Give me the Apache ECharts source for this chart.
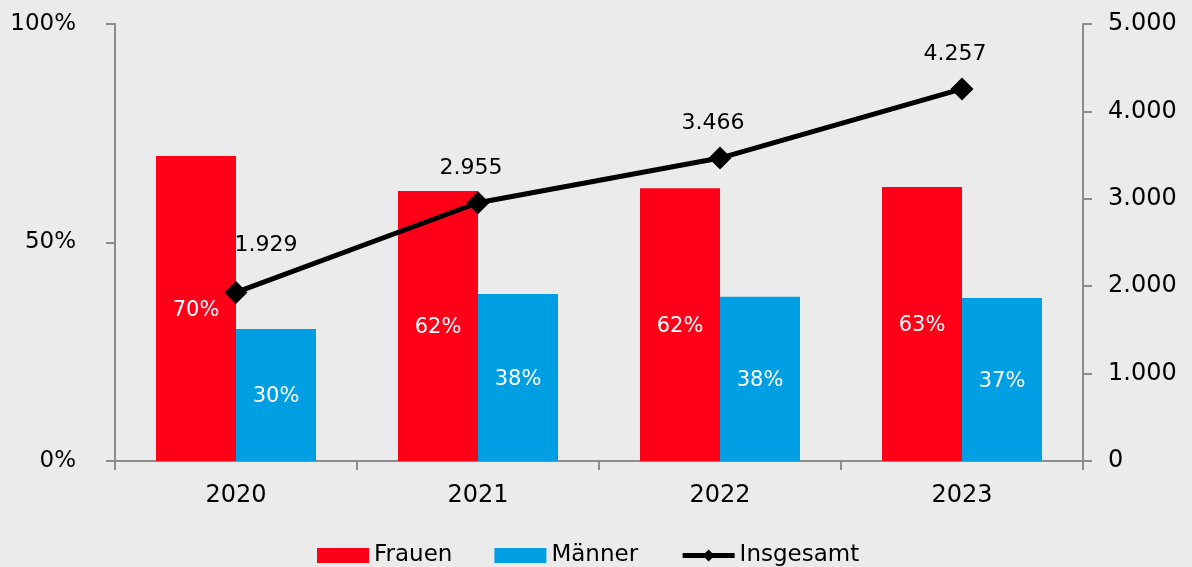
<!DOCTYPE html>
<html>
<head>
<meta charset="utf-8">
<script src="https://cdn.jsdelivr.net/npm/echarts@6/dist/echarts.min.js"></script>
<style>
html, body { margin: 0; padding: 0; background: #ebebeb; }
#chart { width: 1192px; height: 567px; }
</style>
</head>
<body>
<div id="chart"></div>
<script>
var years = ['2020', '2021', '2022', '2023'];
var frauen = [69.8, 61.8, 62.4, 62.7];
var maenner = [30.2, 38.2, 37.6, 37.3];
var insgesamt = [1929, 2955, 3466, 4257];

function fmtThousands(v) {
    return String(v).replace(/\B(?=(\d{3})+(?!\d))/g, '.');
}

var axisGray = '#8c8c8c';
var font = '"DejaVu Sans", sans-serif';

var option = {
    backgroundColor: '#ebebeb',
    textStyle: { fontFamily: font },
    animation: false,
    grid: { left: 115, right: 109, top: 24, bottom: 106 },
    legend: {
        top: 539,
        left: 312,
        itemWidth: 52,
        itemHeight: 15,
        itemGap: 42,
        textStyle: { fontSize: 23, color: '#000', fontFamily: font },
        data: [
            { name: 'Frauen', icon: 'rect' },
            { name: 'Männer', icon: 'rect' },
            { name: 'Insgesamt', lineStyle: { width: 5, color: '#000' } }
        ]
    },
    xAxis: [{
        type: 'category',
        data: years,
        axisLine: { lineStyle: { color: axisGray, width: 2 } },
        axisTick: { show: true, length: 9, lineStyle: { color: axisGray, width: 2 } },
        axisLabel: { fontSize: 24, color: '#000', margin: 23 }
    }],
    yAxis: [
        {
            type: 'value',
            min: 0, max: 100, interval: 50,
            axisLine: { show: true, lineStyle: { color: axisGray, width: 2 } },
            axisTick: { show: true, length: 9, lineStyle: { color: axisGray, width: 2 } },
            splitLine: { show: false },
            axisLabel: { fontSize: 23, color: '#000', margin: 39, formatter: '{value}%' }
        },
        {
            type: 'value',
            min: 0, max: 5000, interval: 1000,
            axisLine: { show: true, lineStyle: { color: axisGray, width: 2 } },
            axisTick: { show: true, length: 9, lineStyle: { color: axisGray, width: 2 } },
            splitLine: { show: false },
            axisLabel: { fontSize: 24, color: '#000', margin: 25, formatter: fmtThousands }
        }
    ],
    series: [
        {
            name: 'Frauen',
            type: 'bar',
            data: frauen,
            barWidth: 80,
            barGap: '0%',
            itemStyle: { color: '#ff0019' },
            label: {
                show: true, position: 'inside', color: '#fff', fontSize: 21, offset: [0, 2],
                formatter: function (p) { return Math.round(p.value) + '%'; }
            }
        },
        {
            name: 'Männer',
            type: 'bar',
            data: maenner,
            barWidth: 80,
            barGap: '0%',
            itemStyle: { color: '#009fe3' },
            label: {
                show: true, position: 'inside', color: '#fff', fontSize: 21, offset: [0, 2],
                formatter: function (p) { return Math.round(p.value) + '%'; }
            }
        },
        {
            name: 'Insgesamt',
            type: 'line',
            yAxisIndex: 1,
            data: insgesamt.map(function (v, i) {
                return i === 0
                    ? { value: v, label: { offset: [30, -13] } }
                    : { value: v, label: { offset: [-7, 0] } };
            }),
            symbol: 'diamond',
            symbolSize: 23,
            lineStyle: { color: '#000', width: 5 },
            itemStyle: { color: '#000' },
            label: {
                show: true, position: 'top', distance: 12, color: '#000', fontSize: 22,
                formatter: function (p) { return fmtThousands(p.value); }
            }
        }
    ]
};

var chart = echarts.init(document.getElementById('chart'));
chart.setOption(option);
</script>
</body>
</html>
